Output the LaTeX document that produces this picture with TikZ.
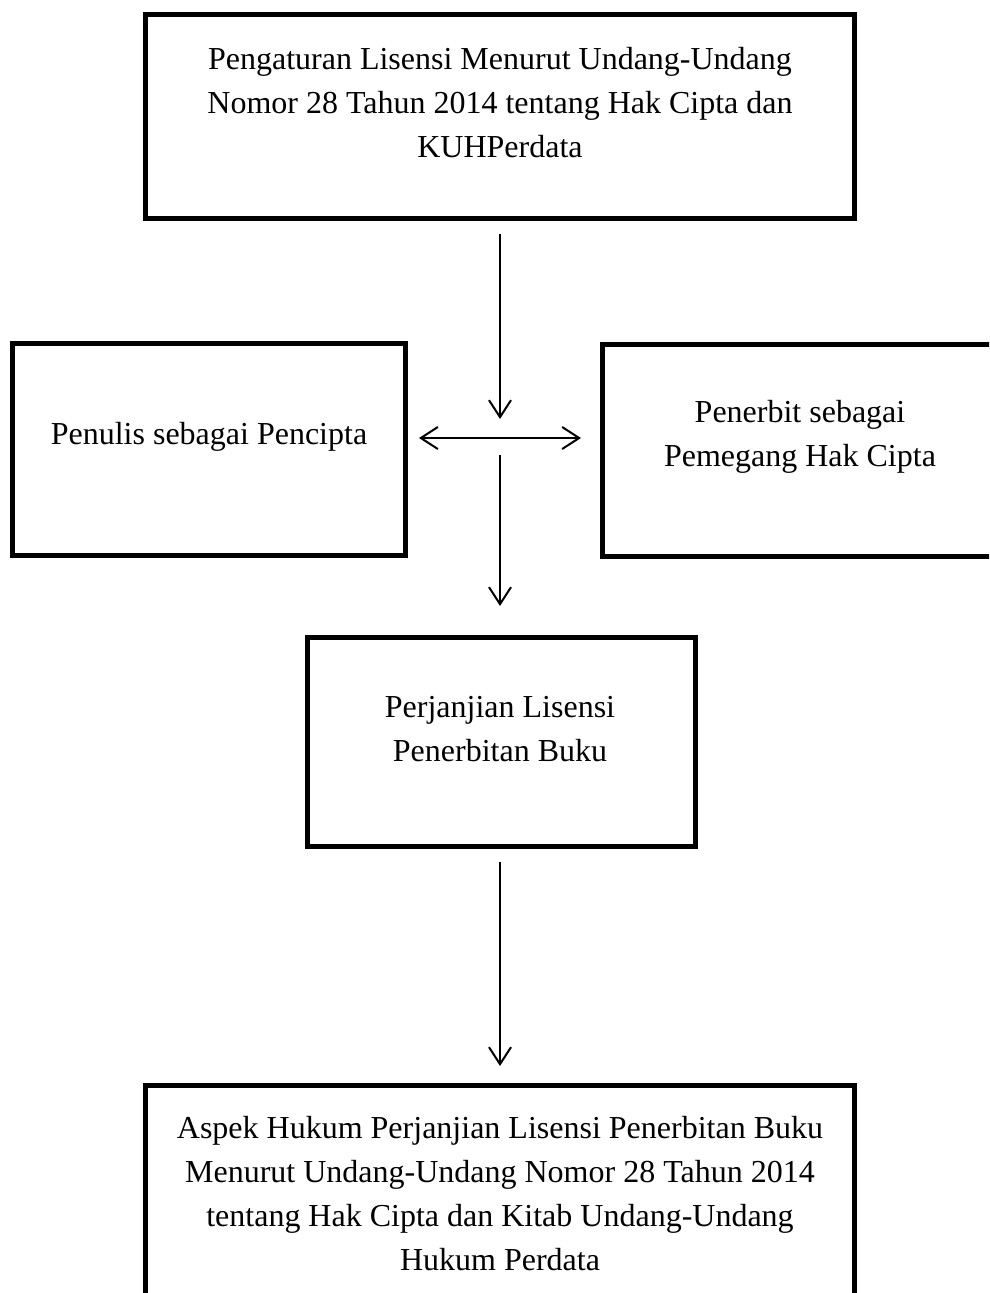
\documentclass[tikz,border=0pt]{standalone}
\usepackage{fontspec}
\setmainfont{Liberation Serif}
\usetikzlibrary{arrows.meta}
\begin{document}
\begin{tikzpicture}[x=1pt,y=-1pt,
  box/.style={draw,line width=4.5pt},
  lbl/.style={align=center,font=\fontsize{32}{44}\selectfont,inner sep=0pt},
  arr/.style={line width=2pt,-{Straight Barb[length=17pt,width=22pt,line width=2pt]}},
  darr/.style={line width=2pt,{Straight Barb[length=17pt,width=22pt,line width=2pt]}-{Straight Barb[length=17pt,width=22pt,line width=2pt]}}]
\useasboundingbox (0,0) rectangle (989,1293);
\clip (0,0) rectangle (989,1293);
% boxes
\draw[box] (145.5,14.5) rectangle (854.5,218.5);
\draw[box] (12.5,343.5) rectangle (405.5,555.5);
\draw[box] (602.5,344.5) rectangle (1010,556.5);
\draw[box] (307.5,637.5) rectangle (695.5,846.5);
\draw[box] (145.5,1085.5) rectangle (854.5,1320);
% texts
\node[lbl] (top) at (500,103) {Pengaturan Lisensi Menurut Undang-Undang\\Nomor 28 Tahun 2014 tentang Hak Cipta dan\\KUHPerdata};
\node[lbl] (pen) at (209,437) {Penulis sebagai Pencipta};
\node[lbl] (pub) at (800,437) {Penerbit sebagai\\Pemegang Hak Cipta};
\node[lbl] (mid) at (500,729) {Perjanjian Lisensi\\Penerbitan Buku};
\node[lbl] (bot) at (500,1194) {Aspek Hukum Perjanjian Lisensi Penerbitan Buku\\Menurut Undang-Undang Nomor 28 Tahun 2014\\tentang Hak Cipta dan Kitab Undang-Undang\\Hukum Perdata};
% connector ends
\coordinate (a1s) at (500,234);
\coordinate (a1e) at (500,419);
\coordinate (hl) at (419,438);
\coordinate (hr) at (581,438);
\coordinate (a2s) at (500,455);
\coordinate (a2e) at (500,606);
\coordinate (a3s) at (500,862);
\coordinate (a3e) at (500,1066);
\draw[arr] (a1s) -- (a1e);
\draw[darr] (hl) -- (hr);
\draw[arr] (a2s) -- (a2e);
\draw[arr] (a3s) -- (a3e);
\end{tikzpicture}
\end{document}
